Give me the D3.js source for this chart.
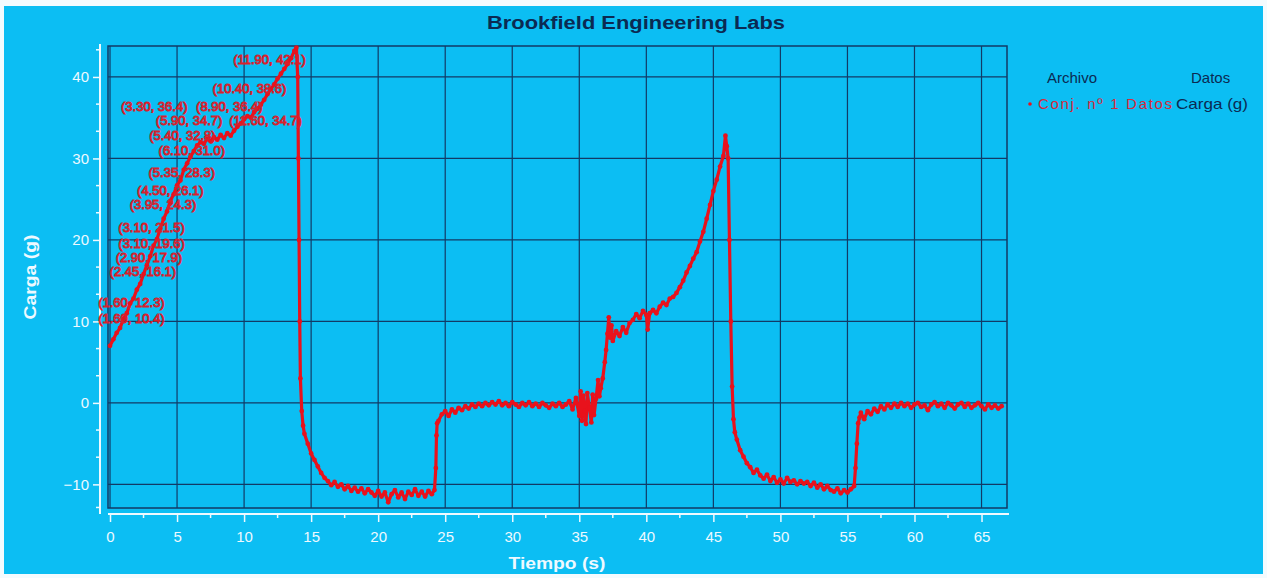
<!DOCTYPE html>
<html>
<head>
<meta charset="utf-8">
<script src="https://cdn.jsdelivr.net/npm/d3@7"></script>
<style>
  body { margin: 0; background: #ffffff; }
  svg { display: block; font-family: Arial, "Liberation Sans", sans-serif; }
</style>
</head>
<body>
<svg id="chart" width="1267" height="578"></svg>
<script>
// Chart texts
var titulo = 'Brookfield Engineering Labs'
var ejeX = 'Tiempo (s)'
var ejeY = 'Carga (g)'
var leyendaCabecera = ['Archivo', 'Datos']
var leyendaSerie = ['Conj. nº 1 Datos', 'Carga (g)']

// Tick values
var ticksX = [0, 5, 10, 15, 20, 25, 30, 35, 40, 45, 50, 55, 60, 65]
var ticksY = [-10, 0, 10, 20, 30, 40]

// Series: [tiempo (s), carga (g)]
var carga = [
  [0.0, 7.0], [0.25, 7.8], [0.5, 8.6], [0.75, 9.2], [1.0, 10.3], [1.25, 11.0], [1.5, 12.2], [1.75, 12.8],
  [2.0, 13.9], [2.25, 14.6], [2.5, 15.8], [2.75, 16.9], [3.0, 18.0], [3.25, 19.3], [3.5, 20.1], [3.75, 21.4],
  [4.0, 22.6], [4.25, 23.5], [4.5, 24.8], [4.75, 25.6], [5.0, 26.7], [5.25, 27.3], [5.5, 28.6], [5.75, 29.4],
  [6.0, 30.2], [6.25, 30.9], [6.5, 31.6], [6.75, 32.0], [7.0, 31.8], [7.25, 32.4], [7.5, 32.1], [7.75, 32.6],
  [8.0, 32.3], [8.25, 32.9], [8.5, 32.5], [8.75, 33.1], [9.0, 32.8], [9.25, 33.4], [9.5, 33.9], [9.75, 34.3],
  [10.0, 34.8], [10.25, 35.2], [10.5, 35.0], [10.75, 35.7], [11.0, 36.1], [11.25, 36.6], [11.5, 37.2], [11.75, 37.9],
  [12.0, 38.5], [12.25, 39.1], [12.5, 39.8], [12.75, 40.4], [13.0, 41.0], [13.25, 41.6], [13.5, 42.3], [13.75, 43.2],
  [13.9, 43.6], [14.0, 40.0], [14.05, 30.0], [14.1, 20.0], [14.15, 10.0], [14.2, 3.0], [14.3, -1.0], [14.4, -2.8],
  [14.5, -3.8], [14.75, -5.0], [15.0, -6.2], [15.25, -7.0], [15.5, -7.8], [15.75, -8.6], [16.0, -9.2], [16.25, -9.6],
  [16.5, -10.1], [16.75, -9.7], [17.0, -10.3], [17.25, -10.0], [17.5, -10.6], [17.75, -10.2], [18.0, -10.8], [18.25, -10.4],
  [18.5, -10.9], [18.75, -10.5], [19.0, -11.1], [19.25, -10.6], [19.5, -11.0], [19.75, -11.4], [20.0, -10.8], [20.25, -11.5],
  [20.5, -11.0], [20.75, -12.2], [21.0, -11.2], [21.25, -10.7], [21.5, -11.6], [21.75, -11.0], [22.0, -11.8], [22.25, -10.9],
  [22.5, -11.3], [22.75, -10.6], [23.0, -11.4], [23.25, -10.9], [23.5, -11.5], [23.75, -10.8], [24.0, -11.2], [24.2, -10.7],
  [24.3, -8.0], [24.35, -4.0], [24.4, -2.5], [24.5, -2.2], [24.75, -1.4], [25.0, -1.0], [25.25, -1.6], [25.5, -0.8],
  [25.75, -1.2], [26.0, -0.6], [26.25, -0.9], [26.5, -0.4], [26.75, -0.7], [27.0, -0.2], [27.25, -0.5], [27.5, -0.1],
  [27.75, -0.4], [28.0, 0.0], [28.25, -0.3], [28.5, 0.1], [28.75, -0.2], [29.0, 0.2], [29.25, -0.3], [29.5, 0.0],
  [29.75, -0.4], [30.0, 0.1], [30.25, -0.2], [30.5, -0.5], [30.75, 0.0], [31.0, -0.3], [31.25, 0.1], [31.5, -0.4],
  [31.75, -0.1], [32.0, -0.5], [32.25, 0.0], [32.5, -0.3], [32.75, -0.6], [33.0, -0.1], [33.25, -0.4], [33.5, 0.0],
  [33.75, -0.5], [34.0, -0.2], [34.25, 0.2], [34.5, -0.8], [34.75, 0.6], [35.0, -1.6], [35.1, 1.4], [35.2, -2.2],
  [35.3, 0.9], [35.4, -1.0], [35.5, -2.6], [35.6, 1.2], [35.75, -0.6], [35.9, -2.4], [36.0, 1.0], [36.1, -1.5],
  [36.25, 0.5], [36.4, 2.8], [36.5, 0.8], [36.6, 1.8], [36.75, 3.0], [36.9, 5.0], [37.0, 6.5], [37.1, 8.5],
  [37.2, 10.5], [37.3, 8.0], [37.4, 9.5], [37.5, 7.6], [37.75, 8.8], [38.0, 8.2], [38.25, 9.3], [38.5, 8.6],
  [38.75, 9.8], [39.0, 10.2], [39.25, 10.9], [39.5, 10.4], [39.75, 11.3], [40.0, 10.8], [40.1, 9.0], [40.25, 11.0],
  [40.5, 11.4], [40.75, 11.0], [41.0, 11.8], [41.25, 12.3], [41.5, 12.0], [41.75, 12.8], [42.0, 13.0], [42.25, 13.5],
  [42.5, 14.2], [42.75, 15.0], [43.0, 16.0], [43.25, 16.8], [43.5, 17.7], [43.75, 18.5], [44.0, 19.8], [44.25, 21.0],
  [44.5, 22.6], [44.75, 24.3], [45.0, 26.0], [45.25, 27.4], [45.5, 29.0], [45.75, 30.3], [45.9, 32.8], [46.0, 31.5],
  [46.1, 30.0], [46.2, 20.0], [46.3, 10.0], [46.4, 2.0], [46.5, -2.0], [46.6, -3.6], [46.75, -4.5], [47.0, -5.8],
  [47.25, -6.6], [47.5, -7.4], [47.75, -7.9], [48.0, -8.6], [48.25, -8.2], [48.5, -8.9], [48.75, -9.3], [49.0, -8.8],
  [49.25, -9.6], [49.5, -9.1], [49.75, -9.8], [50.0, -9.4], [50.25, -9.9], [50.5, -9.2], [50.75, -9.7], [51.0, -9.5],
  [51.25, -10.0], [51.5, -9.6], [51.75, -9.9], [52.0, -9.7], [52.25, -10.2], [52.5, -9.8], [52.75, -10.4], [53.0, -10.0],
  [53.25, -10.6], [53.5, -10.2], [53.75, -10.7], [54.0, -10.9], [54.25, -10.5], [54.5, -11.1], [54.75, -10.7], [55.0, -11.0],
  [55.25, -10.6], [55.5, -10.2], [55.6, -8.0], [55.7, -5.0], [55.8, -2.5], [55.9, -1.8], [56.0, -1.2], [56.25, -2.0],
  [56.5, -1.0], [56.75, -1.4], [57.0, -0.7], [57.25, -1.1], [57.5, -0.4], [57.75, -0.8], [58.0, -0.2], [58.25, -0.6],
  [58.5, -0.1], [58.75, -0.5], [59.0, 0.0], [59.25, -0.4], [59.5, -0.1], [59.75, -0.6], [60.0, -0.2], [60.25, 0.0],
  [60.5, -0.5], [60.75, -0.3], [61.0, -0.9], [61.25, -0.2], [61.5, 0.1], [61.75, -0.4], [62.0, -0.1], [62.25, -0.6],
  [62.5, 0.0], [62.75, -0.3], [63.0, -0.7], [63.25, -0.2], [63.5, 0.0], [63.75, -0.5], [64.0, -0.1], [64.25, -0.6],
  [64.5, -0.3], [64.75, 0.0], [65.0, -0.4], [65.25, -0.8], [65.5, -0.2], [65.75, -0.6], [66.0, -0.3], [66.25, -0.7],
  [66.5, -0.4]
]

// Point annotations shown on the first rise: [tiempo, carga]
var etiquetas = [
  [1.60, 10.4], [1.60, 12.3], [2.45, 16.1], [2.90, 17.9], [3.10, 19.6], [3.10, 21.5],
  [3.95, 24.3], [4.50, 26.1], [5.35, 28.3], [6.10, 31.0], [5.40, 32.8], [5.90, 34.7],
  [11.60, 34.7], [3.30, 36.4], [8.90, 36.4], [10.40, 38.6], [11.90, 42.1]
]

// LAYOUT
var W = 1267, H = 578
var plot = {left: 108, right: 1007, top: 46, bottom: 508}
var fondo = '#0cbef3'
var rejilla = '#123a66'
var blanco = '#eef9ff'
var rojo = '#e8121c'
var azulTexto = '#0b2a52'

var svg = d3.select('#chart')

// Background with a pale frame like the screenshot
svg.append('rect').attr('x', 0).attr('y', 0).attr('width', W).attr('height', H).attr('fill', '#f4fbfe')
svg.append('rect').attr('x', 4).attr('y', 6).attr('width', W - 8).attr('height', H - 10).attr('fill', fondo)

// Scales
var x = d3.scaleLinear().domain([-0.15, 66.9]).range([plot.left, plot.right])
var y = d3.scaleLinear().domain([-12.9, 43.8]).range([plot.bottom, plot.top])

// Grid
var grid = svg.append('g')
grid.selectAll('line.vx')
  .data(ticksX)
  .join('line')
    .attr('class', 'vx')
    .attr('x1', d => x(d)).attr('x2', d => x(d))
    .attr('y1', plot.top).attr('y2', plot.bottom)
grid.selectAll('line.hy')
  .data(ticksY)
  .join('line')
    .attr('class', 'hy')
    .attr('x1', plot.left).attr('x2', plot.right)
    .attr('y1', d => y(d)).attr('y2', d => y(d))
grid.selectAll('line')
  .attr('stroke', rejilla).attr('stroke-width', 1.2)
grid.append('rect')
  .attr('x', plot.left).attr('y', plot.top)
  .attr('width', plot.right - plot.left).attr('height', plot.bottom - plot.top)
  .attr('fill', 'none').attr('stroke', rejilla).attr('stroke-width', 1.5)

// Axes (white, offset from the plot frame)
var axisX = d3.axisBottom(x).tickValues(ticksX).tickSize(8).tickPadding(9).tickFormat(d3.format('d'))
var gx = svg.append('g').attr('transform', `translate(0,${plot.bottom + 6})`).call(axisX)
var minorX = d3.range(2.5, 66.9, 5)
gx.selectAll('line.minor')
  .data(minorX)
  .join('line')
    .attr('class', 'minor')
    .attr('x1', d => x(d)).attr('x2', d => x(d))
    .attr('y1', 0).attr('y2', 4)

var axisY = d3.axisLeft(y).tickValues(ticksY).tickSize(7).tickPadding(4).tickFormat(d3.format('d'))
var gy = svg.append('g').attr('transform', `translate(${plot.left - 8},0)`).call(axisY)
var minorY = ticksY.flatMap(t => [t + 10 / 3, t + 20 / 3]).concat([-10 - 10 / 3 + 0.5]).filter(v => v > -12.9 && v < 43.8)
gy.selectAll('line.minor')
  .data(minorY)
  .join('line')
    .attr('class', 'minor')
    .attr('y1', d => y(d)).attr('y2', d => y(d))
    .attr('x1', 0).attr('x2', -4)

for (var g of [gx, gy]) {
  g.select('.domain').attr('stroke', blanco).attr('stroke-width', 2)
  g.selectAll('line').attr('stroke', blanco).attr('stroke-width', 1.5)
  g.selectAll('text').attr('fill', blanco).style('font-size', '15px').style('font-family', 'Arial, "Liberation Sans", sans-serif')
}
gx.select('.domain').attr('d', `M${plot.left},0H${plot.right + 2}`)
gy.select('.domain').attr('d', `M0,${plot.top - 2}V${plot.bottom + 6}`)

// Axis titles
svg.append('text')
  .attr('x', 557).attr('y', 569)
  .attr('text-anchor', 'middle')
  .attr('textLength', 97).attr('lengthAdjust', 'spacingAndGlyphs')
  .attr('fill', blanco).style('font-size', '16px').style('font-weight', 'bold')
  .text(ejeX)
svg.append('text')
  .attr('transform', `translate(36,${(plot.top + plot.bottom) / 2}) rotate(-90)`)
  .attr('text-anchor', 'middle')
  .attr('textLength', 85).attr('lengthAdjust', 'spacingAndGlyphs')
  .attr('fill', blanco).style('font-size', '16px').style('font-weight', 'bold')
  .text(ejeY)

// Title
svg.append('text')
  .attr('x', 636).attr('y', 29)
  .attr('text-anchor', 'middle')
  .attr('textLength', 298).attr('lengthAdjust', 'spacingAndGlyphs')
  .attr('fill', azulTexto).style('font-size', '18px').style('font-weight', 'bold')
  .text(titulo)

// Data line
var line = d3.line().x(d => x(d[0])).y(d => y(d[1]))
svg.append('path')
  .datum(carga)
  .attr('d', line)
  .attr('fill', 'none')
  .attr('stroke', rojo)
  .attr('stroke-width', 3.2)
  .attr('stroke-linejoin', 'round')

// Point markers, they make the trace look thick
svg.append('g').selectAll('circle')
  .data(carga)
  .join('circle')
    .attr('cx', d => x(d[0]))
    .attr('cy', d => y(d[1]))
    .attr('r', 2.4)
    .attr('fill', rojo)

// Annotations on the first rise
var fmt = d3.format('.2f'), fmt1 = d3.format('.1f')
svg.append('g').selectAll('text')
  .data(etiquetas)
  .join('text')
    .attr('x', d => x(d[0]))
    .attr('y', d => y(d[1]))
    .attr('dy', '0.35em')
    .attr('text-anchor', 'middle')
    .attr('fill', 'none')
    .attr('stroke', '#d8202c')
    .attr('stroke-width', 1)
    .style('font-size', '13px')
    .text(d => `(${fmt(d[0])}, ${fmt1(d[1])})`)

// Legend
var leg = svg.append('g').style('font-size', '15px')
leg.append('text').attr('x', 1047).attr('y', 83).attr('fill', azulTexto).text(leyendaCabecera[0])
leg.append('text').attr('x', 1191).attr('y', 83).attr('fill', azulTexto).text(leyendaCabecera[1])
leg.append('circle').attr('cx', 1030).attr('cy', 104).attr('r', 1.8).attr('fill', rojo)
leg.append('text').attr('x', 1038).attr('y', 109).attr('fill', '#d8283a')
  .attr('textLength', 134).attr('lengthAdjust', 'spacing').text(leyendaSerie[0])
leg.append('text').attr('x', 1176).attr('y', 109).attr('fill', azulTexto)
  .attr('textLength', 72).attr('lengthAdjust', 'spacingAndGlyphs').text(leyendaSerie[1])
</script>
</body>
</html>
